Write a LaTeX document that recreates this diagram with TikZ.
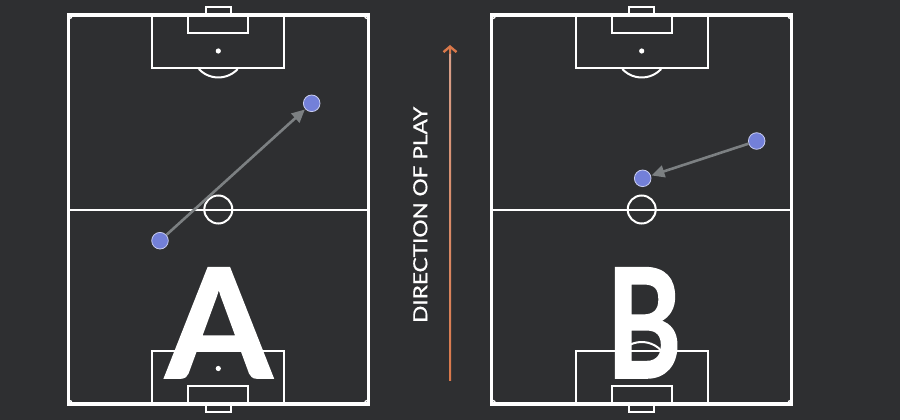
\documentclass[tikz,border=0pt]{standalone}
\usepackage{fontspec}
\setmainfont{Lato}
\newfontfamily\heavyfont[BoldFeatures={FakeBold=1.3}]{Lato}
\newfontfamily\medfont[UprightFeatures={FakeBold=0.6}]{Lato}
\usepackage{graphicx}
\usetikzlibrary{arrows.meta}
\definecolor{bg}{HTML}{2E2F31}
\definecolor{dotfill}{HTML}{7380D9}
\definecolor{dotedge}{HTML}{C9CDF0}
\definecolor{passgray}{HTML}{7C8082}
\definecolor{dirtop}{HTML}{D9784A}
\definecolor{dirbot}{HTML}{D8A08A}
\tikzset{
  outerline/.style={draw=white, line width=3.3pt},
  innerline/.style={draw=white, line width=2pt},
  cornerline/.style={draw=white, line width=1.4pt},
  player/.style={circle, fill=dotfill, draw=dotedge, line width=0.8pt, minimum size=16.6pt, inner sep=0pt},
  pass/.style={draw=passgray, line width=2.6pt, -{Triangle[length=13pt,width=12pt]}, shorten >=0.5pt},
  bigletter/.style={text=white, inner sep=0pt, font=\heavyfont\bfseries, anchor=south},
  dirlabel/.style={text=white, inner sep=0pt, rotate=90, font=\medfont},
}
\newcommand{\drawpitchat}[1]{%
  \begin{scope}[shift={(#1,209.5)}]
    \draw[outerline] (-150,-194.5) rectangle (150,194.5);
    \draw[innerline] (-150,0) -- (150,0);
    \draw[innerline] (0,0) circle[radius=14];
    % top end
    \draw[innerline] (-66,-194.5) rectangle (66,-141);
    \draw[innerline] (-30,-194.5) rectangle (30,-176.5);
    \draw[innerline] (-12.5,-194.5) rectangle (12.5,-202.5);
    \fill[white] (0,-158.5) circle[radius=2.6];
    \draw[innerline] (0,-158.5) ++(42.8:26.5) arc[start angle=42.8, end angle=137.2, radius=26.5];
    % bottom end
    \draw[innerline] (-66,194.5) rectangle (66,141);
    \draw[innerline] (-30,194.5) rectangle (30,176.5);
    \draw[innerline] (-12.5,194.5) rectangle (12.5,202.5);
    \fill[white] (0,159) circle[radius=2.6];
    \draw[innerline] (0,159) ++(222.8:26.5) arc[start angle=222.8, end angle=317.2, radius=26.5];
    % corners
    \draw[cornerline] (-146,-194.5) arc[start angle=0, end angle=90, radius=4];
    \draw[cornerline] (150,-190.5) arc[start angle=90, end angle=180, radius=4];
    \draw[cornerline] (-150,190.5) arc[start angle=270, end angle=360, radius=4];
    \draw[cornerline] (146,194.5) arc[start angle=180, end angle=270, radius=4];
  \end{scope}%
}
\begin{document}
\begin{tikzpicture}[x=1pt, y=-1pt]
  \fill[bg] (0,0) rectangle (900,420);
  \useasboundingbox (0,0) rectangle (900,420);

  % pitches
  \drawpitchat{218.3}
  \drawpitchat{641.7}

  % big letters
  \node[bigletter] (letA) at (218.8,378) {\resizebox{106pt}{110pt}{A}};
  \node[bigletter] (letB) at (644,378) {\resizebox{75pt}{110pt}{B}};

  % direction of play
  \coordinate (dirS) at (450,380);
  \coordinate (dirE) at (450,45);
  \shade[bottom color=dirbot, top color=dirtop, shading angle=180] (449,50) rectangle (451,380);
  \draw[draw=dirtop, line width=2.4pt, -{Straight Barb[length=5.5pt,width=13pt]}] (450,54) -- (dirE);
  \node[dirlabel] (dirtext) at (420.3,214.8) {\resizebox{216pt}{14pt}{DIRECTION OF PLAY}};

  % pitch A players
  \node[player] (a1) at (160,240.7) {};
  \node[player] (a2) at (311.7,103.3) {};
  \draw[pass] (a1) -- (a2);

  % pitch B players
  \node[player] (b1) at (756.7,141) {};
  \node[player] (b2) at (642.7,178.3) {};
  \draw[pass] (b1) -- (b2);
\end{tikzpicture}
\end{document}
